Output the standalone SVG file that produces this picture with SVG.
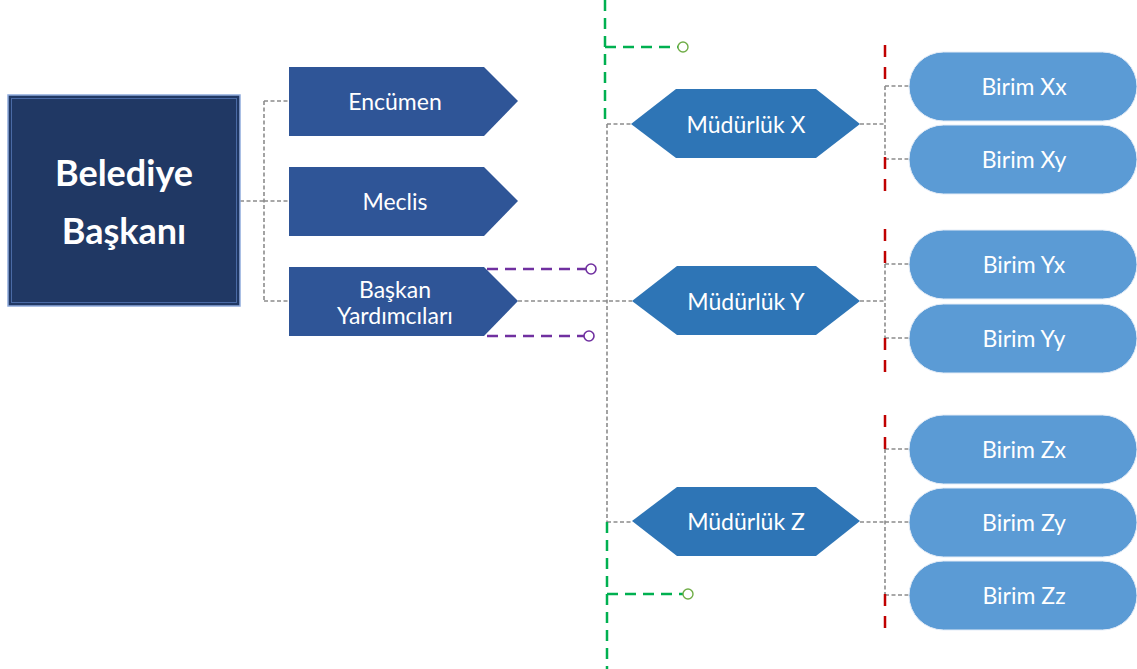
<svg xmlns="http://www.w3.org/2000/svg" width="1137" height="669" viewBox="0 0 1137 669">
<style>
text{font-family:Lato,"Liberation Sans",sans-serif;fill:#fff;text-anchor:middle;dominant-baseline:central}
.t{font-size:23px}
.big{font-size:36px;font-weight:bold}
.pent{fill:#2f5597}
.hex{fill:#2e75b6}
.pill{fill:#5b9bd5;stroke:#e4ecf7;stroke-width:1}
.g{fill:none;stroke:#8c8c8c;stroke-width:1.6;stroke-dasharray:4 2.5}
.p{fill:none;stroke:#7030a0;stroke-width:2.5;stroke-dasharray:11 7}
.gr{fill:none;stroke:#00b050;stroke-width:2.5;stroke-dasharray:11 7}
.r{fill:none;stroke:#c00000;stroke-width:2.5;stroke-dasharray:12 10}
.pc{fill:#fff;stroke:#7030a0;stroke-width:1.6}
.gc{fill:#fff;stroke:#70ad47;stroke-width:1.4}
</style>
<rect width="1137" height="669" fill="#fff"/>
<g id="connectors">
<path class="g" d="M240 201H264M264 101V301M264 101H289M264 201H289M264 301H289"/>
<path class="g" d="M518 301H632M607 124V522M607 124H631M607 522H632"/>
<path class="g" d="M860 124H885M885 86V159M885 86H909M885 159H909"/>
<path class="g" d="M860 301H885M885 264V338M885 264H909M885 338H909"/>
<path class="g" d="M860 522H885M885 449V595M885 449H909M885 522H909M885 595H909"/>
<path class="p" d="M487 269H586"/><circle class="pc" cx="591" cy="269" r="5"/>
<path class="p" d="M487 336H584"/><circle class="pc" cx="589" cy="336" r="5"/>
<path class="gr" d="M605 0V123M605 47H678"/><circle class="gc" cx="683" cy="47" r="5"/>
<path class="gr" d="M607 522V669M607 594H683"/><circle class="gc" cx="688" cy="594" r="5"/>
<path class="r" d="M885 45V86M885 157V195"/>
<path class="r" d="M885 229V264M885 338V375"/>
<path class="r" d="M885 415V449M885 594V630"/>
</g>
<g id="baskan">
<rect x="8" y="95" width="232" height="211" fill="#203864" stroke="#8faadc" stroke-width="1.5"/>
<rect x="11.5" y="98.5" width="225" height="204" fill="none" stroke="#4a6aa5" stroke-width="1"/>
<text class="big" x="124" y="172">Belediye</text>
<text class="big" x="124" y="230">Başkanı</text>
</g>
<g id="encumen"><path class="pent" d="M289 67H484L518 101L484 136H289Z"/><text class="t" x="395" y="101">Encümen</text></g>
<g id="meclis"><path class="pent" d="M289 167H484L518 201L484 236H289Z"/><text class="t" x="395" y="201">Meclis</text></g>
<g id="yardimci"><path class="pent" d="M289 267H484L518 301L484 336H289Z"/><text class="t" x="395" y="289">Başkan</text><text class="t" x="395" y="315">Yardımcıları</text></g>
<g id="mudX"><path class="hex" d="M631 124L676 89H816L860 124L816 158H676Z"/><text class="t" x="746" y="124">Müdürlük X</text></g>
<g id="mudY"><path class="hex" d="M632 301L677 266H816L860 301L816 335H677Z"/><text class="t" x="746" y="301">Müdürlük Y</text></g>
<g id="mudZ"><path class="hex" d="M632 521L677 487H816L860 521L816 556H677Z"/><text class="t" x="746" y="521">Müdürlük Z</text></g>
<g id="bXx"><rect class="pill" x="909" y="52" width="228" height="69" rx="34.5"/><text class="t" x="1024" y="86">Birim Xx</text></g>
<g id="bXy"><rect class="pill" x="909" y="125" width="228" height="69" rx="34.5"/><text class="t" x="1024" y="159">Birim Xy</text></g>
<g id="bYx"><rect class="pill" x="909" y="230" width="228" height="69" rx="34.5"/><text class="t" x="1024" y="264">Birim Yx</text></g>
<g id="bYy"><rect class="pill" x="909" y="304" width="228" height="69" rx="34.5"/><text class="t" x="1024" y="338">Birim Yy</text></g>
<g id="bZx"><rect class="pill" x="909" y="415" width="228" height="69" rx="34.5"/><text class="t" x="1024" y="449">Birim Zx</text></g>
<g id="bZy"><rect class="pill" x="909" y="488" width="228" height="69" rx="34.5"/><text class="t" x="1024" y="522">Birim Zy</text></g>
<g id="bZz"><rect class="pill" x="909" y="561" width="228" height="69" rx="34.5"/><text class="t" x="1024" y="595">Birim Zz</text></g>
</svg>
